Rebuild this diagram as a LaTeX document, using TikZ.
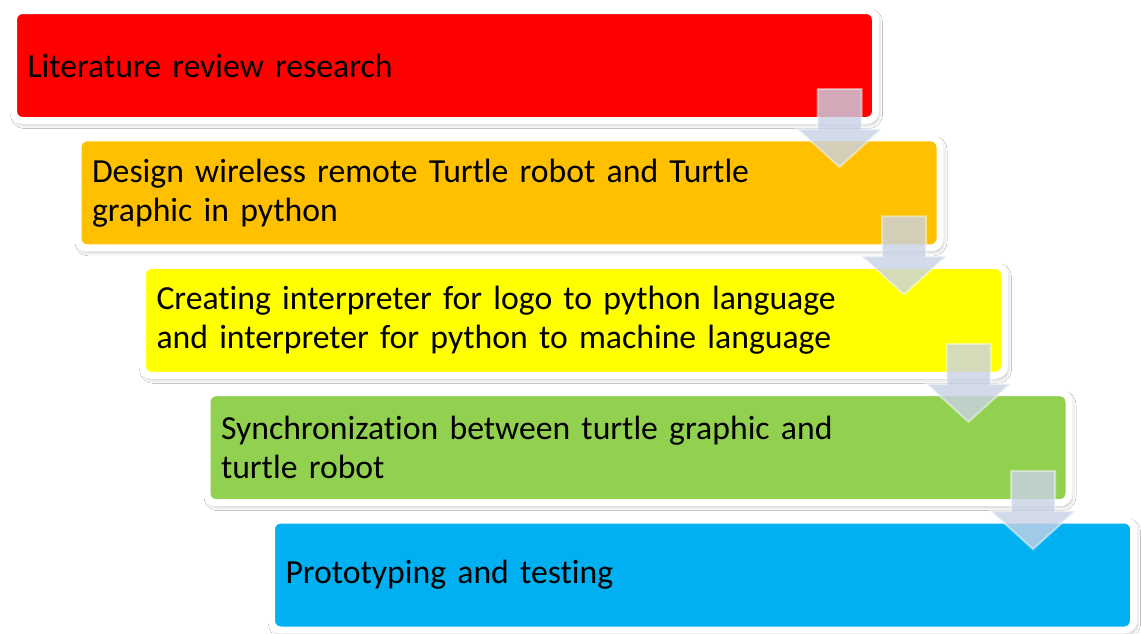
\documentclass[tikz,border=0pt]{standalone}
\usepackage{fontspec}
\setmainfont{Carlito}[Ligatures=NoCommon]
\usetikzlibrary{shadows.blur}
\definecolor{c1}{HTML}{FF0000}
\definecolor{c2}{HTML}{FFC000}
\definecolor{c3}{HTML}{FFFF00}
\definecolor{c4}{HTML}{92D050}
\definecolor{c5}{HTML}{00B0F0}
\definecolor{arrowfill}{HTML}{C8D2E6}
\tikzset{
  stepbox/.style={draw=white, line width=7pt, rounded corners=9pt,
    minimum width=862pt, minimum height=110pt, inner xsep=14pt, inner ysep=0pt,
    text width=834pt, align=left, font=\fontsize{33.7}{39}\selectfont,
    blur shadow={shadow xshift=2pt, shadow yshift=-3pt, shadow blur radius=5pt, shadow opacity=35}},
  downarrow/.style={fill=arrowfill, fill opacity=0.8, draw=white, draw opacity=0.45, line width=2pt}
}
\begin{document}
\begin{tikzpicture}[x=1pt, y=-1pt]
\useasboundingbox[fill=white] (0,0) rectangle (1141,633);
% staircase of process steps
\node[stepbox, fill=c1] (s1) at (444.5,65.5) {Literature review research};
\node[stepbox, fill=c2] (s2) at (509,192.9) {Design wireless remote Turtle robot and Turtle\\graphic in python};
\node[stepbox, fill=c3] (s3) at (573.5,320.3) {Creating interpreter for logo to python language\\and interpreter for python to machine language};
\node[stepbox, fill=c4] (s4) at (638,447.7) {Synchronization between turtle graphic and\\turtle robot};
\node[stepbox, fill=c5] (s5) at (702.5,575) {Prototyping and testing};
% down arrows linking consecutive steps
\foreach \i in {1,2,3,4}{
  \path (s\i.center) ++(395,23.5) coordinate (a\i);
  \draw[downarrow] (a\i) ++(-22,0) -- ++(44,0) -- ++(0,40) -- ++(20,0)
    -- ++(-42,38) -- ++(-42,-38) -- ++(20,0) -- cycle;
}
\end{tikzpicture}
\end{document}
